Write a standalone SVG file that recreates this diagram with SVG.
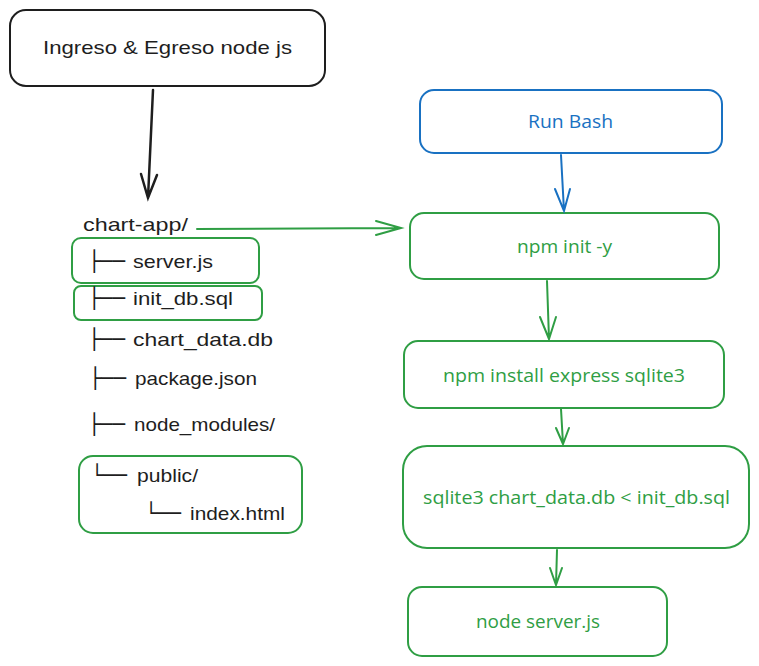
<svg xmlns="http://www.w3.org/2000/svg" width="759" height="666" viewBox="0 0 759 666">
<style>
.bk{fill:#fff;stroke:#1e1e1e;stroke-width:2}
.gr{fill:#fff;stroke:#2f9e44;stroke-width:2}
.bl{fill:#fff;stroke:#1971c2;stroke-width:2}
.hand{font-family:"Liberation Sans","DejaVu Sans",sans-serif;font-size:19px;fill:#1e1e1e}
.tree{font-family:"DejaVu Sans",sans-serif;font-size:20px;fill:#1e1e1e}
.lbl{font-family:"Open Sans","Liberation Sans",sans-serif;font-size:18px}
.g{fill:#2f9e44}
.b{fill:#1971c2}
.cg{stroke:#2f9e44;stroke-width:2;fill:none;stroke-linecap:round}
.cb{stroke:#1971c2;stroke-width:2;fill:none;stroke-linecap:round}
.ck{stroke:#1e1e1e;stroke-width:2.5;fill:none;stroke-linecap:round}
</style>
<g id="title">
<rect class="bk" x="10" y="10" width="315" height="76" rx="16"/>
<text class="hand" x="43" y="54" textLength="249" lengthAdjust="spacingAndGlyphs">Ingreso &amp; Egreso node js</text>
</g>
<g id="tree">
<text class="hand" x="83" y="231" textLength="105" lengthAdjust="spacingAndGlyphs">chart-app/</text>
<g id="server-js">
<rect class="gr" x="72" y="238" width="187" height="45" rx="9"/>
<text class="tree" x="88" y="268" textLength="37" lengthAdjust="spacingAndGlyphs">├──</text><text class="hand" x="133" y="268" textLength="80" lengthAdjust="spacingAndGlyphs">server.js</text>
</g>
<g id="init-db">
<rect class="gr" x="74" y="286" width="188" height="34" rx="7"/>
<text class="tree" x="88" y="305" textLength="37" lengthAdjust="spacingAndGlyphs">├──</text><text class="hand" x="133" y="305" textLength="100" lengthAdjust="spacingAndGlyphs">init_db.sql</text>
</g>
<text class="tree" x="88" y="346" textLength="37" lengthAdjust="spacingAndGlyphs">├──</text><text class="hand" x="133" y="346" textLength="140" lengthAdjust="spacingAndGlyphs">chart_data.db</text>
<text class="tree" x="89" y="385" textLength="37" lengthAdjust="spacingAndGlyphs">├──</text><text class="hand" x="135" y="385" textLength="122" lengthAdjust="spacingAndGlyphs">package.json</text>
<text class="tree" x="88" y="431" textLength="37" lengthAdjust="spacingAndGlyphs">├──</text><text class="hand" x="134" y="431" textLength="141" lengthAdjust="spacingAndGlyphs">node_modules/</text>
<g id="public">
<rect class="gr" x="79" y="456" width="223" height="77" rx="14"/>
<text class="tree" x="91" y="482" textLength="36" lengthAdjust="spacingAndGlyphs">└──</text><text class="hand" x="137" y="482" textLength="61" lengthAdjust="spacingAndGlyphs">public/</text>
<text class="tree" x="145" y="520" textLength="36" lengthAdjust="spacingAndGlyphs">└──</text><text class="hand" x="190" y="520" textLength="95" lengthAdjust="spacingAndGlyphs">index.html</text>
</g>
</g>
<g id="run-bash">
<rect class="bl" x="420" y="90" width="302" height="63" rx="14"/>
<text class="lbl b" x="528" y="128" textLength="85" lengthAdjust="spacingAndGlyphs">Run Bash</text>
</g>
<g id="npm-init">
<rect class="gr" x="410" y="213" width="309" height="66" rx="14"/>
<text class="lbl g" x="517" y="253" textLength="95" lengthAdjust="spacingAndGlyphs">npm init -y</text>
</g>
<g id="npm-install">
<rect class="gr" x="404" y="341" width="320" height="67" rx="14"/>
<text class="lbl g" x="443" y="382" textLength="242" lengthAdjust="spacingAndGlyphs">npm install express sqlite3</text>
</g>
<g id="sqlite">
<rect class="gr" x="403" y="446" width="346" height="102" rx="24"/>
<text class="lbl g" x="423" y="504" textLength="307" lengthAdjust="spacingAndGlyphs">sqlite3 chart_data.db &lt; init_db.sql</text>
</g>
<g id="node-server">
<rect class="gr" x="408" y="587" width="259" height="69" rx="14"/>
<text class="lbl g" x="476" y="628" textLength="124" lengthAdjust="spacingAndGlyphs">node server.js</text>
</g>
<g id="connectors">
<path class="ck" d="M153 90 L148 198 M141 174 L148 198 L157 175"/>
<path class="cg" d="M197 229 L401 228 M376 221 L401 228 L376 235"/>
<path class="cb" d="M561 155 L564 211 M555 189 L564 211 L570 189"/>
<path class="cg" d="M547 281 L549 339 M540 317 L549 339 L556 317"/>
<path class="cg" d="M561 409 L563 444 M556 428 L563 444 L569 428"/>
<path class="cg" d="M557 550 L556 585 M550 568 L556 585 L562 568"/>
</g>
</svg>
